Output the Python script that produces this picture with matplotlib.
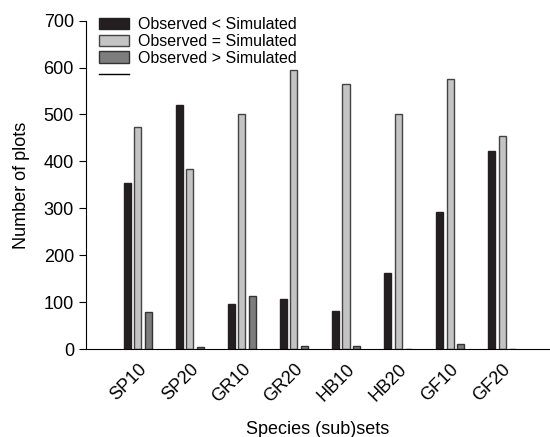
import matplotlib
matplotlib.use("Agg")
import matplotlib.pyplot as plt
import numpy as np
from matplotlib.patches import Patch
from matplotlib.lines import Line2D

plt.rcParams['font.family'] = ['Liberation Sans', 'DejaVu Sans']

categories = ["SP10", "SP20", "GR10", "GR20", "HB10", "HB20", "GF10", "GF20"]
obs_less = [354, 520, 96, 108, 81, 162, 292, 423]
obs_equal = [473, 383, 500, 594, 564, 500, 575, 455]
obs_greater = [80, 4, 113, 6, 6, 1, 11, 1]

series_labels = ["Observed < Simulated", "Observed = Simulated", "Observed > Simulated"]
colors = ["#231f20", "#c4c4c4", "#7d7d7d"]
edges = ["#231f20", "#444444", "#333333"]

fig = plt.figure(figsize=(5.5, 4.37), dpi=100)
ax = fig.add_axes([0.156, 0.2007, 0.844, 0.7523])

x = np.arange(1, len(categories) + 1)
width = 0.135
step = 0.2
for i, (vals, c, e) in enumerate(zip([obs_less, obs_equal, obs_greater], colors, edges)):
    ax.bar(x + (i - 1) * step, vals, width, color=c, edgecolor=e, linewidth=1.0)

ax.set_xlim(0, 8.92)
ax.set_ylim(0, 700)
ax.set_yticks(range(0, 701, 100))
ax.set_xticks(x)
ax.set_xticklabels(categories, rotation=45, ha="right", rotation_mode="anchor", fontsize=13)
ax.tick_params(axis="y", labelsize=13, length=5, direction="out")
ax.tick_params(axis="x", length=0, pad=8)
for s in ["top", "right"]:
    ax.spines[s].set_visible(False)

ax.set_ylabel("Number of plots", fontsize=13, labelpad=10)
ax.set_xlabel("Species (sub)sets", fontsize=13, labelpad=11)

handles = [Patch(facecolor=c, edgecolor=e, linewidth=1.0) for c, e in zip(colors, edges)]
handles.append(Line2D([], [], color="black", linewidth=1.0))
ax.legend(handles, series_labels + [""], loc="upper left", bbox_to_anchor=(0.015, 1.03),
          frameon=False, fontsize=11.5, handlelength=1.9, handleheight=0.75,
          labelspacing=0.12, handletextpad=0.55, borderaxespad=0)

fig.savefig("out.png", dpi=100)
